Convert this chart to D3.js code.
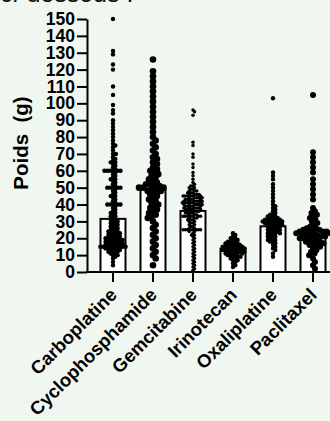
<!DOCTYPE html>
<html>
<head>
<meta charset="utf-8">
<script src="https://cdn.jsdelivr.net/npm/d3@7"></script>
<style>
  html, body { margin: 0; padding: 0; background: #f0f7f0; }
  svg { display: block; }
</style>
</head>
<body>
<div id="chart"></div>
<script>
// categories and bar heights (g)
const categories = ["Carboplatine", "Cyclophosphamide", "Gemcitabine", "Irinotecan", "Oxaliplatine", "Paclitaxel"];
const barValues = [31.5, 49.5, 36.2, 13.9, 27.1, 21.5];
const yTicks = d3.range(0, 151, 10);

// individual weights as [value, count]
const carboplatine = [[4,1],[6,1],[8,1],[9,1],[10,2],[11,2],[12,3],[13,3],[14,4],[15,7],[16,4],[17,4],[18,4],[19,4],[20,4],[21,3],[22,3],[23,3],[24,3],[25,2],[26,2],[27,2],[28,2],[29,2],[30,2],[31,2],[32,1],[33,2],[34,1],[35,2],[36,1],[37,1],[38,1],[39,1],[40,5],[41,1],[42,1],[43,1],[44,1],[45,2],[46,1],[47,1],[48,1],[49,1],[50,5],[51,1],[52,1],[53,1],[54,1],[55,2],[56,1],[57,1],[58,1],[59,1],[60,6],[61,1],[62,1],[63,1],[64,1],[65,2],[66,1],[67,1],[68,1],[70,2],[72,1],[74,1],[75,1],[76,1],[78,1],[80,1],[82,1],[84,1],[86,1],[88,1],[90,1],[94,1],[96,1],[99,1],[105,1],[110,1],[120,1],[123,1],[129,1],[131,1],[150,1]];
const cyclophosphamide = [[4,1],[8,1],[10,1],[12,1],[14,1],[16,1],[18,1],[20,1],[22,1],[24,1],[26,1],[28,1],[30,1],[32,1],[33,1],[34,1],[35,1],[36,1],[37,1],[38,1],[39,1],[40,1],[41,1],[42,1],[43,1],[44,1],[45,1],[46,1],[47,1],[48,2],[49,2],[50,3],[51,2],[52,2],[53,1],[54,1],[55,1],[56,1],[57,1],[58,1],[59,1],[60,1],[61,1],[62,1],[64,1],[65,1],[67,1],[68,1],[70,1],[72,1],[74,1],[76,1],[78,1],[80,1],[83,1],[86,1],[89,1],[92,1],[95,1],[98,1],[101,1],[104,1],[107,1],[110,1],[113,1],[116,1],[119,1],[126,1]];
const gemcitabine = [[1,1],[2,1],[3,1],[4,1],[5,1],[6,1],[7,1],[8,1],[9,1],[10,1],[11,1],[12,1],[13,1],[14,1],[15,1],[16,1],[17,1],[18,1],[19,1],[20,1],[21,1],[22,2],[23,1],[24,2],[25,8],[26,2],[27,2],[28,2],[29,2],[30,2],[31,3],[32,3],[33,7],[34,3],[35,4],[36,4],[37,5],[38,5],[39,5],[40,6],[41,6],[42,6],[43,5],[44,5],[45,6],[46,4],[47,3],[48,3],[49,2],[50,2],[51,2],[52,1],[53,1],[55,1],[57,1],[59,1],[62,1],[64,1],[68,1],[70,1],[75,1],[77,1],[93,1],[95,1],[96,1]];
const irinotecan = [[3,1],[4,1],[5,1],[6,1],[7,2],[8,2],[9,3],[10,3],[11,4],[12,5],[13,5],[14,5],[15,5],[16,4],[17,3],[18,3],[19,2],[20,2],[21,1],[22,1],[23,1]];
const oxaliplatine = [[9,1],[11,1],[13,1],[14,1],[15,1],[16,1],[17,1],[18,2],[19,2],[20,2],[21,2],[22,2],[23,3],[24,3],[25,3],[26,3],[27,3],[28,4],[29,4],[30,5],[31,4],[32,3],[33,2],[34,2],[35,1],[36,1],[37,1],[38,1],[39,1],[40,1],[42,1],[44,1],[46,1],[48,1],[50,1],[52,1],[55,1],[57,1],[59,1],[103,1]];
const paclitaxel = [[2,1],[4,1],[6,1],[8,1],[10,1],[11,1],[12,1],[13,1],[14,1],[15,1],[16,2],[17,2],[18,2],[19,2],[20,3],[21,3],[22,3],[23,4],[24,4],[25,3],[26,2],[27,1],[28,1],[29,1],[30,1],[31,1],[32,1],[33,1],[34,1],[35,1],[36,1],[38,1],[43,1],[46,1],[49,1],[52,1],[55,1],[59,1],[62,1],[65,1],[68,1],[71,1],[105,1]];
const series = [carboplatine, cyclophosphamide, gemcitabine, irinotecan, oxaliplatine, paclitaxel];

// dot radius per column
const dotRadius = [2.2, 3.3, 1.75, 2.2, 2.2, 3.0];

const width = 330, height = 421;
const font = "'Liberation Sans', Arial, sans-serif";

const svg = d3.select("#chart").append("svg")
  .attr("width", width)
  .attr("height", height)
  .attr("viewBox", [0, 0, width, height]);

svg.append("rect").attr("width", width).attr("height", height).attr("fill", "#f0f7f0");

// cut-off sentence above the chart
svg.append("text")
  .attr("x", 0).attr("y", 1.5)
  .attr("font-family", font).attr("font-size", 25)
  .attr("fill", "#111")
  .text("ci-dessous :");

const x = d3.scaleBand()
  .domain(categories)
  .range([93, 333])
  .paddingInner(0.375)
  .paddingOuter(0.1875);

const y = d3.scaleLinear()
  .domain([0, 150])
  .range([272, 19]);

// bars
svg.append("g")
  .selectAll("rect")
  .data(categories)
  .join("rect")
    .attr("x", d => x(d))
    .attr("y", (d, i) => y(barValues[i]))
    .attr("width", x.bandwidth())
    .attr("height", (d, i) => y(0) - y(barValues[i]))
    .attr("fill", "#fff")
    .attr("stroke", "#000")
    .attr("stroke-width", 2);

// simple beeswarm: each dot as close to the column centre as it can go
// (dots overlap a fair bit, like the original)
function swarm(pairs, r) {
  const pts = [];
  pairs.forEach(([v, n]) => { for (let k = 0; k < n; k++) pts.push({ v, py: y(v), dx: 0 }); });
  pts.sort((a, b) => a.py - b.py);
  const d = 2 * r * 0.65;
  const placed = [];
  for (const p of pts) {
    const near = placed.filter(q => Math.abs(q.py - p.py) < d);
    const cands = [0];
    for (const q of near) {
      const off = Math.sqrt(d * d - (q.py - p.py) ** 2);
      cands.push(q.dx + off, q.dx - off);
    }
    cands.sort((a, b) => Math.abs(a) - Math.abs(b));
    for (const c of cands) {
      if (near.every(q => (q.dx - c) ** 2 + (q.py - p.py) ** 2 >= d * d - 1e-6)) { p.dx = c; break; }
    }
    placed.push(p);
  }
  return placed;
}

series.forEach((pairs, i) => {
  const cx = x(categories[i]) + x.bandwidth() / 2;
  svg.append("g")
    .selectAll("circle")
    .data(swarm(pairs, dotRadius[i]))
    .join("circle")
      .attr("cx", d => cx + d.dx)
      .attr("cy", d => d.py)
      .attr("r", dotRadius[i])
      .attr("fill", "#000");
});

// y axis
const gy = svg.append("g")
  .attr("transform", "translate(87,0)")
  .call(d3.axisLeft(y).tickValues(yTicks).tickSize(10).tickSizeOuter(0).tickPadding(2));
gy.select(".domain").attr("stroke-width", 2);
gy.selectAll(".tick line").attr("stroke-width", 2);
gy.selectAll(".tick text")
  .attr("font-family", font).attr("font-size", 17.5).attr("font-weight", "bold").attr("fill", "#000");

// x axis
const gx = svg.append("g")
  .attr("transform", `translate(0,${y(0)})`)
  .call(d3.axisBottom(x).tickSize(10).tickSizeOuter(0));
gx.select(".domain").remove();
gx.append("line").attr("x1", 86).attr("x2", width).attr("stroke", "#000").attr("stroke-width", 2);
gx.selectAll(".tick line").attr("stroke-width", 2);
gx.selectAll(".tick text")
  .attr("font-family", font).attr("font-size", 18.5).attr("font-weight", "bold").attr("fill", "#000")
  .attr("text-anchor", "end")
  .attr("dy", null).attr("y", null)
  .attr("transform", "translate(5,24) rotate(-45)");

// y axis title
svg.append("text")
  .attr("transform", "translate(28,143) rotate(-90)")
  .attr("text-anchor", "middle")
  .attr("font-family", font).attr("font-size", 20.5).attr("font-weight", "bold")
  .attr("xml:space", "preserve")
  .style("white-space", "pre")
  .text("Poids  (g)");
</script>
</body>
</html>
